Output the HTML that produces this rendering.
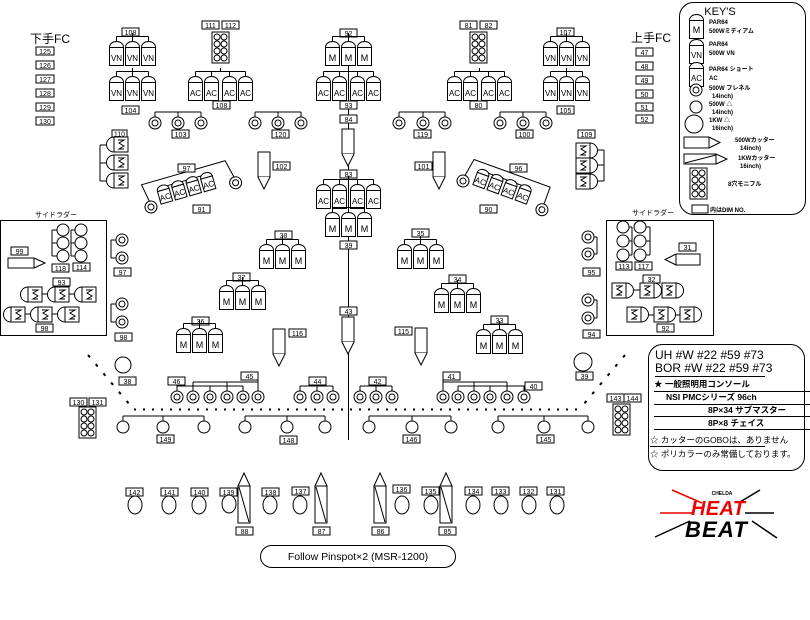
<!DOCTYPE html>
<html><head><meta charset="utf-8"><style>
html,body{margin:0;padding:0;background:#fff;}
svg{display:block;font-family:"Liberation Sans","Noto Sans CJK JP",sans-serif;}
.s{fill:#fff;stroke:#000;stroke-width:1;}
.n{fill:none;stroke:#000;stroke-width:1;}
.lb rect{fill:#fff;stroke:#000;stroke-width:1;}
.lb text{font-size:7px;text-anchor:middle;}
.c{font-size:9px;text-anchor:middle;}
.v{font-size:8px;text-anchor:middle;}
.k{font-size:6px;font-weight:bold;}
</style></head><body>
<svg width="810" height="620" viewBox="0 0 810 620" xmlns="http://www.w3.org/2000/svg">
<defs>
<g id="can"><path class="s" d="M0.5,8.5 C0.5,0.5 14.5,0.5 14.5,8.5 Z"/><rect class="s" x="0.5" y="8.5" width="14" height="18"/></g>
<g id="g3"><path class="n" d="M7.5,-2.5H39.5M7.5,-2.5V2M23.5,-2.5V2M39.5,-2.5V2M23.5,-2.5V-6"/><use href="#can" x="0"/><use href="#can" x="16"/><use href="#can" x="32"/></g>
<g id="g4"><path class="n" d="M7.5,-2.5H57.5M7.5,-2.5V2M23.5,-2.5V2M41.5,-2.5V2M57.5,-2.5V2M32.5,-2.5V-6"/><use href="#can" x="0"/><use href="#can" x="16"/><use href="#can" x="34"/><use href="#can" x="50"/></g>
<g id="fr"><circle class="s" r="6"/><circle class="n" r="3"/></g>
<g id="lad"><path class="s" d="M8,0 A7.5,7.5 0 0 0 8,15 Z"/><rect class="s" x="8" y="0" width="14" height="15"/><path class="n" d="M12,3H18L13,6L18,9L13,12H18"/></g>
<g id="ladR"><path class="s" d="M14,0 A7.5,7.5 0 0 1 14,15 Z"/><rect class="s" x="0" y="0" width="14" height="15"/><path class="n" d="M4,3H10L5,6L10,9L5,12H10"/></g>
<g id="box8"><rect class="s" x="0" y="0" width="17" height="31"/><circle class="n" cx="5" cy="5" r="3"/><circle class="n" cx="12" cy="5" r="3"/><circle class="n" cx="5" cy="12" r="3"/><circle class="n" cx="12" cy="12" r="3"/><circle class="n" cx="5" cy="19" r="3"/><circle class="n" cx="12" cy="19" r="3"/><circle class="n" cx="5" cy="26" r="3"/><circle class="n" cx="12" cy="26" r="3"/></g>
<g id="cutD"><rect class="s" x="0" y="0" width="12" height="25"/><path class="s" d="M0,25 L6,37 L12,25"/></g>
<g id="cutU"><path class="s" d="M0,13 L6,0 L12,13 Z"/><rect class="s" x="0" y="13" width="12" height="37"/><path class="n" d="M1,14 L11,49"/></g>
<g id="smallcan"><path class="s" d="M0.5,7 C0.5,0.5 12.5,0.5 12.5,7 Z"/><rect class="s" x="0.5" y="7" width="12" height="13"/></g>
</defs>

<!-- FC labels -->
<text x="30" y="43" font-size="12">下手FC</text>
<g class="lb" transform="translate(36,47)"><rect width="18" height="8"/><text x="9" y="7">125</text></g>
<g class="lb" transform="translate(36,61)"><rect width="18" height="8"/><text x="9" y="7">126</text></g>
<g class="lb" transform="translate(36,75)"><rect width="18" height="8"/><text x="9" y="7">127</text></g>
<g class="lb" transform="translate(36,89)"><rect width="18" height="8"/><text x="9" y="7">128</text></g>
<g class="lb" transform="translate(36,103)"><rect width="18" height="8"/><text x="9" y="7">129</text></g>
<g class="lb" transform="translate(36,117)"><rect width="18" height="8"/><text x="9" y="7">130</text></g>
<text x="631" y="42" font-size="12">上手FC</text>
<g class="lb" transform="translate(636,48)"><rect width="17" height="8"/><text x="8.5" y="7">47</text></g>
<g class="lb" transform="translate(636,62)"><rect width="17" height="8"/><text x="8.5" y="7">48</text></g>
<g class="lb" transform="translate(636,76)"><rect width="17" height="8"/><text x="8.5" y="7">49</text></g>
<g class="lb" transform="translate(636,90)"><rect width="17" height="8"/><text x="8.5" y="7">50</text></g>
<g class="lb" transform="translate(636,103)"><rect width="17" height="8"/><text x="8.5" y="7">51</text></g>
<g class="lb" transform="translate(636,115)"><rect width="17" height="8"/><text x="8.5" y="7">52</text></g>

<!-- center line -->
<path class="n" d="M348.5,36V440"/>

<!-- top left VN 108 -->
<g class="lb" transform="translate(122,28)"><rect width="17" height="8"/><text x="8.5" y="7">108</text></g>
<use href="#g3" x="109" y="39"/>
<text class="v" x="116.5" y="61">VN</text><text class="v" x="132.5" y="61">VN</text><text class="v" x="148.5" y="61">VN</text>
<use href="#g3" x="109" y="74"/>
<text class="v" x="116.5" y="96">VN</text><text class="v" x="132.5" y="96">VN</text><text class="v" x="148.5" y="96">VN</text>
<g class="lb" transform="translate(122,106)"><rect width="17" height="8"/><text x="8.5" y="7">104</text></g>

<!-- 111 112 -->
<g class="lb" transform="translate(202,21)"><rect width="17" height="8"/><text x="8.5" y="7">111</text></g>
<g class="lb" transform="translate(222,21)"><rect width="17" height="8"/><text x="8.5" y="7">112</text></g>
<use href="#box8" x="212" y="32"/>
<use href="#g4" x="188" y="74"/>
<text class="v" x="195.5" y="96">AC</text><text class="v" x="211.5" y="96">AC</text><text class="v" x="229.5" y="96">AC</text><text class="v" x="245.5" y="96">AC</text>
<g class="lb" transform="translate(213,101)"><rect width="17" height="8"/><text x="8.5" y="7">108</text></g>

<!-- center top 92 -->
<g class="lb" transform="translate(340,29)"><rect width="17" height="8"/><text x="8.5" y="7">92</text></g>
<use href="#g3" x="325" y="39"/>
<text class="c" x="332.5" y="61">M</text><text class="c" x="348.5" y="61">M</text><text class="c" x="364.5" y="61">M</text>
<use href="#g4" x="316" y="74"/>
<text class="v" x="323.5" y="96">AC</text><text class="v" x="339.5" y="96">AC</text><text class="v" x="357.5" y="96">AC</text><text class="v" x="373.5" y="96">AC</text>
<g class="lb" transform="translate(340,101)"><rect width="17" height="8"/><text x="8.5" y="7">93</text></g>
<g class="lb" transform="translate(340,115)"><rect width="17" height="8"/><text x="8.5" y="7">84</text></g>
<use href="#cutD" x="342" y="129"/>
<g class="lb" transform="translate(340,170)"><rect width="17" height="8"/><text x="8.5" y="7">83</text></g>
<use href="#g4" x="316" y="182"/>
<text class="v" x="323.5" y="204">AC</text><text class="v" x="339.5" y="204">AC</text><text class="v" x="357.5" y="204">AC</text><text class="v" x="373.5" y="204">AC</text>
<use href="#g3" x="325" y="210"/>
<text class="c" x="332.5" y="232">M</text><text class="c" x="348.5" y="232">M</text><text class="c" x="364.5" y="232">M</text>
<g class="lb" transform="translate(340,241)"><rect width="17" height="8"/><text x="8.5" y="7">39</text></g>
<g class="lb" transform="translate(340,307)"><rect width="17" height="8"/><text x="8.5" y="7">43</text></g>
<use href="#cutD" x="342" y="317"/>

<!-- top right -->
<g class="lb" transform="translate(460,21)"><rect width="17" height="8"/><text x="8.5" y="7">81</text></g>
<g class="lb" transform="translate(480,21)"><rect width="17" height="8"/><text x="8.5" y="7">82</text></g>
<use href="#box8" x="470" y="32"/>
<use href="#g4" x="447" y="74"/>
<text class="v" x="454.5" y="96">AC</text><text class="v" x="470.5" y="96">AC</text><text class="v" x="488.5" y="96">AC</text><text class="v" x="504.5" y="96">AC</text>
<g class="lb" transform="translate(470,101)"><rect width="17" height="8"/><text x="8.5" y="7">80</text></g>
<g class="lb" transform="translate(557,28)"><rect width="17" height="8"/><text x="8.5" y="7">107</text></g>
<use href="#g3" x="543" y="39"/>
<text class="v" x="550.5" y="61">VN</text><text class="v" x="566.5" y="61">VN</text><text class="v" x="582.5" y="61">VN</text>
<use href="#g3" x="543" y="74"/>
<text class="v" x="550.5" y="96">VN</text><text class="v" x="566.5" y="96">VN</text><text class="v" x="582.5" y="96">VN</text>
<g class="lb" transform="translate(557,106)"><rect width="17" height="8"/><text x="8.5" y="7">105</text></g>

<!-- fresnel rows -->
<path class="n" d="M155,112H201M155,112V117M178,112V117M201,112V117M255,112H301M255,112V117M278,112V117M301,112V117M399,112H445M399,112V117M423,112V117M445,112V117M500,112H546M500,112V117M523,112V117M546,112V117"/>
<use href="#fr" x="155" y="123"/><use href="#fr" x="178" y="123"/><use href="#fr" x="201" y="123"/>
<use href="#fr" x="255" y="123"/><use href="#fr" x="278" y="123"/><use href="#fr" x="301" y="123"/>
<use href="#fr" x="399" y="123"/><use href="#fr" x="423" y="123"/><use href="#fr" x="445" y="123"/>
<use href="#fr" x="500" y="123"/><use href="#fr" x="523" y="123"/><use href="#fr" x="546" y="123"/>
<g class="lb" transform="translate(172,130)"><rect width="17" height="8"/><text x="8.5" y="7">103</text></g>
<g class="lb" transform="translate(272,130)"><rect width="17" height="8"/><text x="8.5" y="7">120</text></g>
<g class="lb" transform="translate(414,130)"><rect width="17" height="8"/><text x="8.5" y="7">119</text></g>
<g class="lb" transform="translate(516,130)"><rect width="17" height="8"/><text x="8.5" y="7">100</text></g>

<!-- 110 / 109 ladders -->
<g class="lb" transform="translate(112,130)"><rect width="15" height="7"/><text x="7.5" y="6.5">110</text></g>
<path class="n" d="M100,145V181M100,145H106M100,163H106M100,181H106"/>
<use href="#lad" x="106" y="137"/><use href="#lad" x="106" y="155"/><use href="#lad" x="106" y="173"/>
<g class="lb" transform="translate(578,130)"><rect width="17" height="8"/><text x="8.5" y="7">109</text></g>
<path class="n" d="M604,150V181M597,150H604M597,165H604M597,181H604"/>
<use href="#ladR" x="576" y="143"/><use href="#ladR" x="576" y="158"/><use href="#ladR" x="576" y="174"/>

<!-- cutters -->
<use href="#cutD" x="258" y="152"/>
<g class="lb" transform="translate(273,162)"><rect width="17" height="8"/><text x="8.5" y="7">102</text></g>
<use href="#cutD" x="433" y="152"/>
<g class="lb" transform="translate(415,162)"><rect width="17" height="8"/><text x="8.5" y="7">101</text></g>
<use href="#cutD" x="273" y="329"/>
<g class="lb" transform="translate(289,329)"><rect width="17" height="8"/><text x="8.5" y="7">116</text></g>
<use href="#cutD" x="415" y="328"/>
<g class="lb" transform="translate(395,327)"><rect width="17" height="8"/><text x="8.5" y="7">115</text></g>

<!-- tilted 97/91 -->
<g transform="translate(151,207) rotate(-16)">
<path class="n" d="M0,-6 L-3,-24 L84,-24 L88,-6"/>
<path class="n" d="M18,-10V-16H66V-10"/>
<use href="#smallcan" x="10" y="-20"/><use href="#smallcan" x="25" y="-20"/><use href="#smallcan" x="40" y="-20"/><use href="#smallcan" x="55" y="-20"/>
<text class="v" x="16.5" y="-3">AC</text><text class="v" x="31.5" y="-3">AC</text><text class="v" x="46.5" y="-3">AC</text><text class="v" x="61.5" y="-3">AC</text>
<use href="#fr" x="0" y="0"/><use href="#fr" x="88" y="0"/>
</g>
<g class="lb" transform="translate(178,164)"><rect width="17" height="8"/><text x="8.5" y="7">97</text></g>
<g class="lb" transform="translate(193,205)"><rect width="17" height="8"/><text x="8.5" y="7">91</text></g>
<!-- tilted 96/90 -->
<g transform="translate(463,181) rotate(20)">
<path class="n" d="M0,-6 L3,-24 L84,-24 L84,-6"/>
<path class="n" d="M18,-10V-16H66V-10"/>
<use href="#smallcan" x="10" y="-20"/><use href="#smallcan" x="25" y="-20"/><use href="#smallcan" x="40" y="-20"/><use href="#smallcan" x="55" y="-20"/>
<text class="v" x="16.5" y="-3">AC</text><text class="v" x="31.5" y="-3">AC</text><text class="v" x="46.5" y="-3">AC</text><text class="v" x="61.5" y="-3">AC</text>
<use href="#fr" x="0" y="0"/><use href="#fr" x="84" y="0"/>
</g>
<g class="lb" transform="translate(510,164)"><rect width="17" height="8"/><text x="8.5" y="7">96</text></g>
<g class="lb" transform="translate(480,205)"><rect width="17" height="8"/><text x="8.5" y="7">90</text></g>

<!-- left side ladder box -->
<text x="35" y="217" font-size="7">サイドラダー</text>
<rect class="n" x="0.5" y="220.5" width="106" height="115"/>
<g class="lb" transform="translate(11,247)"><rect width="17" height="8"/><text x="8.5" y="7">99</text></g>
<path class="s" d="M8,258H34V268H8Z M34,258L45,263L34,268"/>
<path class="n" d="M52,230V256M52,230H57M52,243H57M52,256H57M71,230V256M71,230H75M71,243H75M71,256H75"/>
<circle class="s" cx="63" cy="230" r="6"/><circle class="s" cx="63" cy="243" r="6"/><circle class="s" cx="63" cy="256" r="6"/>
<circle class="s" cx="81" cy="230" r="6"/><circle class="s" cx="81" cy="243" r="6"/><circle class="s" cx="81" cy="256" r="6"/>
<g class="lb" transform="translate(52,264)"><rect width="17" height="8"/><text x="8.5" y="7">118</text></g>
<g class="lb" transform="translate(73,263)"><rect width="17" height="8"/><text x="8.5" y="7">114</text></g>
<g class="lb" transform="translate(53,278)"><rect width="17" height="8"/><text x="8.5" y="7">93</text></g>
<path class="n" d="M42,294H47M68,294H74M25,314H30M52,314H57"/>
<use href="#lad" x="20" y="287"/><use href="#lad" x="47" y="287"/><use href="#lad" x="74" y="287"/>
<use href="#lad" x="3" y="307"/><use href="#lad" x="30" y="307"/><use href="#lad" x="57" y="307"/>
<g class="lb" transform="translate(36,324)"><rect width="17" height="8"/><text x="8.5" y="7">98</text></g>
<path class="n" d="M111,240V258M111,240H116M111,258H116M111,304V322M111,304H116M111,322H116"/>
<use href="#fr" x="122" y="240"/><use href="#fr" x="122" y="258"/>
<g class="lb" transform="translate(114,268)"><rect width="17" height="8"/><text x="8.5" y="7">97</text></g>
<use href="#fr" x="122" y="304"/><use href="#fr" x="122" y="322"/>
<g class="lb" transform="translate(115,333)"><rect width="17" height="8"/><text x="8.5" y="7">98</text></g>

<!-- right side ladder box -->
<text x="632" y="215" font-size="7">サイドラダー</text>
<rect class="n" x="606.5" y="220.5" width="107" height="115"/>
<path class="n" d="M632,227V255M629,227H632M629,241H632M629,255H632M650,227V255M646,227H650M646,241H650M646,255H650"/>
<circle class="s" cx="623" cy="227" r="6"/><circle class="s" cx="623" cy="241" r="6"/><circle class="s" cx="623" cy="255" r="6"/>
<circle class="s" cx="640" cy="227" r="6"/><circle class="s" cx="640" cy="241" r="6"/><circle class="s" cx="640" cy="255" r="6"/>
<g class="lb" transform="translate(616,262)"><rect width="16" height="8"/><text x="8" y="7">113</text></g>
<g class="lb" transform="translate(635,262)"><rect width="17" height="8"/><text x="8.5" y="7">117</text></g>
<g class="lb" transform="translate(679,243)"><rect width="17" height="8"/><text x="8.5" y="7">31</text></g>
<path class="s" d="M676,254H700V265H676Z M676,254L665,259.5L676,265"/>
<g class="lb" transform="translate(643,275)"><rect width="17" height="8"/><text x="8.5" y="7">32</text></g>
<path class="n" d="M634,290H640M662,290H668M649,315H654M676,315H680"/>
<use href="#ladR" x="612" y="283"/><use href="#ladR" x="640" y="283"/><use href="#ladR" x="662" y="283"/>
<use href="#ladR" x="627" y="307"/><use href="#ladR" x="654" y="307"/><use href="#ladR" x="680" y="307"/>
<g class="lb" transform="translate(657,324)"><rect width="17" height="8"/><text x="8.5" y="7">92</text></g>
<path class="n" d="M597,237V254M594,237H597M594,254H597M597,300V318M594,300H597M594,318H597"/>
<use href="#fr" x="588" y="237"/><use href="#fr" x="588" y="254"/>
<g class="lb" transform="translate(583,268)"><rect width="17" height="8"/><text x="8.5" y="7">95</text></g>
<use href="#fr" x="588" y="300"/><use href="#fr" x="588" y="318"/>
<g class="lb" transform="translate(583,330)"><rect width="17" height="8"/><text x="8.5" y="7">94</text></g>

<!-- M groups -->
<g class="lb" transform="translate(275,231)"><rect width="17" height="8"/><text x="8.5" y="7">38</text></g>
<use href="#g3" x="259" y="242"/>
<text class="c" x="266.5" y="264">M</text><text class="c" x="282.5" y="264">M</text><text class="c" x="298.5" y="264">M</text>
<g class="lb" transform="translate(233,273)"><rect width="17" height="8"/><text x="8.5" y="7">37</text></g>
<use href="#g3" x="219" y="283"/>
<text class="c" x="226.5" y="305">M</text><text class="c" x="242.5" y="305">M</text><text class="c" x="258.5" y="305">M</text>
<g class="lb" transform="translate(192,317)"><rect width="17" height="8"/><text x="8.5" y="7">36</text></g>
<use href="#g3" x="176" y="326"/>
<text class="c" x="183.5" y="348">M</text><text class="c" x="199.5" y="348">M</text><text class="c" x="215.5" y="348">M</text>
<g class="lb" transform="translate(412,229)"><rect width="17" height="8"/><text x="8.5" y="7">35</text></g>
<use href="#g3" x="397" y="242"/>
<text class="c" x="404.5" y="264">M</text><text class="c" x="420.5" y="264">M</text><text class="c" x="436.5" y="264">M</text>
<g class="lb" transform="translate(449,275)"><rect width="17" height="8"/><text x="8.5" y="7">34</text></g>
<use href="#g3" x="434" y="286"/>
<text class="c" x="441.5" y="308">M</text><text class="c" x="457.5" y="308">M</text><text class="c" x="473.5" y="308">M</text>
<g class="lb" transform="translate(491,316)"><rect width="17" height="8"/><text x="8.5" y="7">33</text></g>
<use href="#g3" x="476" y="327"/>
<text class="c" x="483.5" y="349">M</text><text class="c" x="499.5" y="349">M</text><text class="c" x="515.5" y="349">M</text>

<!-- stage dotted lines -->
<path d="M88,355L130,405M625,355L583,405" stroke="#000" stroke-width="2" stroke-dasharray="3,9" fill="none"/>
<path d="M134,409.5H580" stroke="#000" stroke-width="2" stroke-dasharray="2,7" fill="none"/>
<circle class="s" cx="123" cy="365" r="8"/>
<g class="lb" transform="translate(119,377)"><rect width="17" height="8"/><text x="8.5" y="7">38</text></g>
<circle class="s" cx="583" cy="362" r="9"/>
<g class="lb" transform="translate(576,372)"><rect width="17" height="8"/><text x="8.5" y="7">39</text></g>
<g class="lb" transform="translate(70,398)"><rect width="17" height="8"/><text x="8.5" y="7">130</text></g>
<g class="lb" transform="translate(89,398)"><rect width="17" height="8"/><text x="8.5" y="7">131</text></g>
<use href="#box8" x="79" y="407"/>
<g class="lb" transform="translate(607,394)"><rect width="17" height="8"/><text x="8.5" y="7">143</text></g>
<g class="lb" transform="translate(624,394)"><rect width="17" height="8"/><text x="8.5" y="7">144</text></g>
<use href="#box8" x="613" y="404"/>

<!-- fresnel bars on stage -->
<path class="n" d="M193,382H258V379M193,382V391M227,382V391M258,382V391M177,386H243M177,386V384M177,386V391M210,386V391M243,386V391"/>
<path class="n" d="M300,386H333M300,386V391M317,383V391M333,386V391M360,386H392M360,386V391M376,383V391M392,386V391"/>
<path class="n" d="M443,382H507M443,379V391M474,382V391M507,382V391M458,386H533M458,386V391M490,386V391M524,386V391"/>
<use href="#fr" x="177" y="397"/><use href="#fr" x="193" y="397"/><use href="#fr" x="210" y="397"/><use href="#fr" x="227" y="397"/><use href="#fr" x="243" y="397"/><use href="#fr" x="258" y="397"/>
<use href="#fr" x="300" y="397"/><use href="#fr" x="317" y="397"/><use href="#fr" x="333" y="397"/>
<use href="#fr" x="360" y="397"/><use href="#fr" x="376" y="397"/><use href="#fr" x="392" y="397"/>
<use href="#fr" x="443" y="397"/><use href="#fr" x="458" y="397"/><use href="#fr" x="474" y="397"/><use href="#fr" x="490" y="397"/><use href="#fr" x="507" y="397"/><use href="#fr" x="524" y="397"/>
<g class="lb" transform="translate(168,377)"><rect width="17" height="8"/><text x="8.5" y="7">46</text></g>
<g class="lb" transform="translate(241,372)"><rect width="17" height="8"/><text x="8.5" y="7">45</text></g>
<g class="lb" transform="translate(309,377)"><rect width="17" height="8"/><text x="8.5" y="7">44</text></g>
<g class="lb" transform="translate(369,377)"><rect width="17" height="8"/><text x="8.5" y="7">42</text></g>
<g class="lb" transform="translate(443,372)"><rect width="17" height="8"/><text x="8.5" y="7">41</text></g>
<g class="lb" transform="translate(525,382)"><rect width="17" height="8"/><text x="8.5" y="7">40</text></g>

<!-- 500W row -->
<path class="n" d="M123,416H204M123,416V421M163,416V421M204,416V421M245,416H325M245,416V421M287,416V421M325,416V421M369,416H451M369,416V421M412,416V421M451,416V421M498,416H588M498,416V421M544,416V421M588,416V421"/>
<circle class="s" cx="123" cy="427" r="6"/><circle class="s" cx="163" cy="427" r="6"/><circle class="s" cx="204" cy="427" r="6"/>
<circle class="s" cx="245" cy="427" r="6"/><circle class="s" cx="287" cy="427" r="6"/><circle class="s" cx="325" cy="427" r="6"/>
<circle class="s" cx="369" cy="427" r="6"/><circle class="s" cx="412" cy="427" r="6"/><circle class="s" cx="451" cy="427" r="6"/>
<circle class="s" cx="498" cy="427" r="6"/><circle class="s" cx="544" cy="427" r="6"/><circle class="s" cx="588" cy="427" r="6"/>
<g class="lb" transform="translate(157,435)"><rect width="17" height="8"/><text x="8.5" y="7">149</text></g>
<g class="lb" transform="translate(280,436)"><rect width="17" height="8"/><text x="8.5" y="7">148</text></g>
<g class="lb" transform="translate(403,435)"><rect width="17" height="8"/><text x="8.5" y="7">146</text></g>
<g class="lb" transform="translate(537,435)"><rect width="17" height="8"/><text x="8.5" y="7">145</text></g>

<!-- FOH -->
<g class="lb" transform="translate(126,488)"><rect width="17" height="8"/><text x="8.5" y="7">142</text></g>
<g class="lb" transform="translate(161,488)"><rect width="17" height="8"/><text x="8.5" y="7">141</text></g>
<g class="lb" transform="translate(191,488)"><rect width="17" height="8"/><text x="8.5" y="7">140</text></g>
<g class="lb" transform="translate(220,488)"><rect width="17" height="8"/><text x="8.5" y="7">139</text></g>
<g class="lb" transform="translate(262,488)"><rect width="17" height="8"/><text x="8.5" y="7">138</text></g>
<g class="lb" transform="translate(292,487)"><rect width="17" height="8"/><text x="8.5" y="7">137</text></g>
<g class="lb" transform="translate(393,485)"><rect width="17" height="8"/><text x="8.5" y="7">136</text></g>
<g class="lb" transform="translate(422,487)"><rect width="17" height="8"/><text x="8.5" y="7">135</text></g>
<g class="lb" transform="translate(465,487)"><rect width="17" height="8"/><text x="8.5" y="7">134</text></g>
<g class="lb" transform="translate(492,487)"><rect width="17" height="8"/><text x="8.5" y="7">133</text></g>
<g class="lb" transform="translate(520,487)"><rect width="17" height="8"/><text x="8.5" y="7">132</text></g>
<g class="lb" transform="translate(547,487)"><rect width="17" height="8"/><text x="8.5" y="7">131</text></g>
<ellipse class="s" cx="135" cy="505" rx="7" ry="9"/><ellipse class="s" cx="169" cy="505" rx="7" ry="9"/><ellipse class="s" cx="199" cy="505" rx="7" ry="9"/><ellipse class="s" cx="229" cy="504" rx="7" ry="9"/>
<ellipse class="s" cx="270" cy="505" rx="7" ry="9"/><ellipse class="s" cx="300" cy="505" rx="7" ry="9"/>
<ellipse class="s" cx="402" cy="505" rx="7" ry="9"/><ellipse class="s" cx="431" cy="505" rx="7" ry="9"/><ellipse class="s" cx="473" cy="505" rx="7" ry="9"/><ellipse class="s" cx="501" cy="505" rx="7" ry="9"/><ellipse class="s" cx="529" cy="505" rx="7" ry="9"/><ellipse class="s" cx="557" cy="505" rx="7" ry="9"/>
<use href="#cutU" x="238" y="473"/><use href="#cutU" x="315" y="473"/><use href="#cutU" x="374" y="473"/><use href="#cutU" x="440" y="473"/>
<g class="lb" transform="translate(236,527)"><rect width="17" height="8"/><text x="8.5" y="7">88</text></g>
<g class="lb" transform="translate(313,527)"><rect width="17" height="8"/><text x="8.5" y="7">87</text></g>
<g class="lb" transform="translate(372,527)"><rect width="17" height="8"/><text x="8.5" y="7">86</text></g>
<g class="lb" transform="translate(439,527)"><rect width="17" height="8"/><text x="8.5" y="7">85</text></g>
<rect class="n" x="260.5" y="545.5" width="195" height="22" rx="11"/>
<text x="358" y="560" font-size="10.5" text-anchor="middle">Follow Pinspot×2 (MSR-1200)</text>

<!-- KEYS -->
<rect class="n" x="679.5" y="2.5" width="126" height="212" rx="14"/>
<text x="720" y="15" font-size="11" text-anchor="middle">KEY'S</text>
<use href="#can" x="689" y="12"/><text class="c" x="696.5" y="33">M</text>
<text class="k" x="709" y="24">PAR64</text><text class="k" x="709" y="33">500Wミディアム</text>
<use href="#can" x="689" y="37"/><text class="v" x="696.5" y="58">VN</text>
<text class="k" x="709" y="46">PAR64</text><text class="k" x="709" y="55">500W VN</text>
<use href="#can" x="689" y="60"/><text class="v" x="696.5" y="81">AC</text>
<text class="k" x="709" y="71">PAR64 ショート</text><text class="k" x="709" y="80">AC</text>
<use href="#fr" x="696" y="90"/>
<text class="k" x="709" y="90">500W フレネル</text><text class="k" x="712" y="98">14inch)</text>
<circle class="s" cx="696" cy="107" r="6"/>
<text class="k" x="709" y="106">500W △</text><text class="k" x="712" y="114">14inch)</text>
<circle class="s" cx="694" cy="124" r="9"/>
<text class="k" x="709" y="122">1KW △</text><text class="k" x="712" y="130">16inch)</text>
<path class="s" d="M684,137H709V148H684Z M709,137L720,142.5L709,148"/>
<text class="k" x="735" y="142">500Wカッター</text><text class="k" x="740" y="150">14inch)</text>
<path class="s" d="M684,154H716V164H684Z M716,154L727,159L716,164"/>
<path class="n" d="M685,163L716,155"/>
<text class="k" x="738" y="160">1KWカッター</text><text class="k" x="740" y="168">16inch)</text>
<use href="#box8" x="690" y="168"/>
<text class="k" x="728" y="186">8穴モニフル</text>
<rect class="s" x="692" y="205" width="16" height="8"/>
<text class="k" x="710" y="212">内はDIM NO.</text>

<!-- notes box -->
<rect class="n" x="648.5" y="344.5" width="156" height="126" rx="14"/>
<text x="655" y="359" font-size="12">UH #W #22 #59 #73</text>
<text x="655" y="372" font-size="12">BOR #W #22 #59 #73</text>
<path class="n" d="M655,376.5H765M654,391.5H810M654,404.5H810M654,416.5H810M654,429.5H810M650,446.5H765"/>
<text x="654" y="387" font-size="8.5" font-weight="bold">★ 一般照明用コンソール</text>
<text x="666" y="400" font-size="8.5" font-weight="bold">NSI PMCシリーズ 96ch</text>
<text x="708" y="413" font-size="8.5" font-weight="bold">8P×34 サブマスター</text>
<text x="708" y="426" font-size="8.5" font-weight="bold">8P×8 チェイス</text>
<text x="650" y="443" font-size="8.5">☆ カッターのGOBOは、ありません</text>
<text x="650" y="457" font-size="8.5">☆ ポリカラーのみ常備しております。</text>

<!-- logo -->
<path d="M672,490L702,503M660,513H693" stroke="#e00" stroke-width="1.5" fill="none"/>
<path d="M760,490L740,502M745,513H774M655,537L690,521M752,521L777,538" stroke="#000" stroke-width="1.5" fill="none"/>
<text x="722" y="495" font-size="5" font-weight="bold" text-anchor="middle">CHELDA</text>
<text x="718" y="515" font-size="20" font-weight="bold" font-style="italic" fill="#e00" text-anchor="middle" textLength="54">HEAT</text>
<text x="716" y="537" font-size="22" font-weight="bold" font-style="italic" fill="#000" text-anchor="middle" textLength="62">BEAT</text>
</svg>
</body></html>
